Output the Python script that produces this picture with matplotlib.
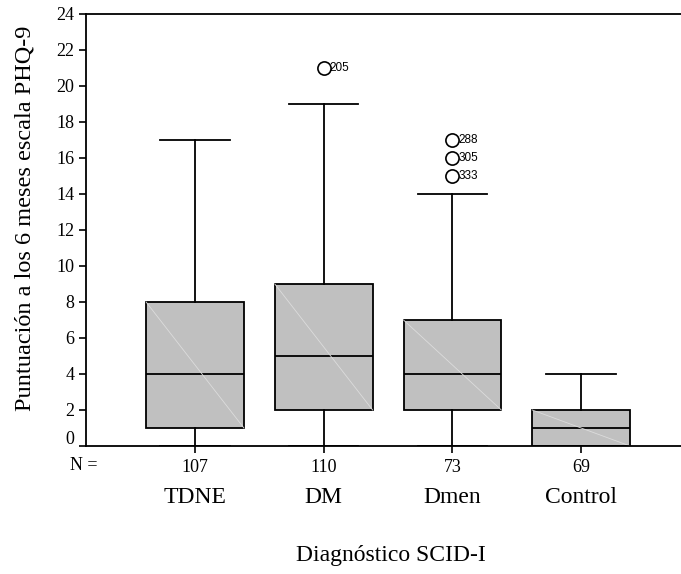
import matplotlib
matplotlib.use("Agg")
import matplotlib.pyplot as plt
from matplotlib.transforms import ScaledTranslation

# datos (escala PHQ-9 a los 6 meses)
grupos = ["TDNE", "DM", "Dmen", "Control"]
n_casos = [107, 110, 73, 69]
minimos = [0, 0, 0, 0]
q1 = [1, 2, 2, 0]
medianas = [4, 5, 4, 1]
q3 = [8, 9, 7, 2]
maximos = [17, 19, 14, 4]
atipicos = [[], [21], [17, 16, 15], []]
etiquetas_atipicos = [[], ["205"], ["288", "305", "333"], []]

serif = ["Liberation Serif", "DejaVu Serif"]
sans = ["Liberation Sans", "DejaVu Sans"]

fig = plt.figure(figsize=(6.81, 5.74), dpi=100)
ax = fig.add_axes([86 / 681, 128 / 574, 595 / 681, 432 / 574])

pos = [1, 2, 3, 4]
stats = []
for i in range(len(grupos)):
    stats.append({"whislo": minimos[i], "q1": q1[i], "med": medianas[i],
                  "q3": q3[i], "whishi": maximos[i], "fliers": atipicos[i]})

lw = 1.3
ax.bxp(stats, positions=pos, widths=0.76, capwidths=0.54, patch_artist=True,
       boxprops=dict(facecolor="#c0c0c0", edgecolor="black", linewidth=lw),
       medianprops=dict(color="black", linewidth=lw),
       whiskerprops=dict(color="black", linewidth=lw),
       capprops=dict(color="black", linewidth=lw),
       flierprops=dict(marker="o", markerfacecolor="none", markeredgecolor="black",
                       markersize=9.5, markeredgewidth=1.2))

# linea diagonal tenue dentro de cada caja
for i in range(len(grupos)):
    ax.plot([pos[i] - 0.38, pos[i] + 0.38], [q3[i], q1[i]], color="#dcdcdc",
            linewidth=0.6, zorder=2.5)

for i in range(len(grupos)):
    for v, t in zip(atipicos[i], etiquetas_atipicos[i]):
        ax.text(pos[i] + 0.045, v, t, fontsize=8.5, family=sans, va="center", ha="left")

ax.set_xlim(0.153, 4.776)
ax.set_ylim(0, 24)
ax.set_yticks(range(0, 25, 2))
ax.set_yticklabels([str(v) for v in range(0, 25, 2)], family=serif, fontsize=13)
ax.set_xticks(pos)
ax.set_xticklabels([str(n) for n in n_casos], family=serif, fontsize=13)
ax.tick_params(axis="both", direction="out", length=5, width=1.2, colors="black")
ax.tick_params(axis="x", pad=4)

# la etiqueta 0 va un poco mas arriba
lbl0 = ax.get_yticklabels()[0]
lbl0.set_transform(lbl0.get_transform() + ScaledTranslation(0, 0.09, fig.dpi_scale_trans))

for s in ["top", "left", "bottom"]:
    ax.spines[s].set_linewidth(1.3)
ax.spines["right"].set_visible(False)

fig.text(84 / 681, 1 - 466 / 574, "N =", family=serif, fontsize=13,
         ha="center", va="center")
for i, g in enumerate(grupos):
    ax.text(pos[i], -2.85, g, family=serif, fontsize=17, ha="center", va="center")

ax.set_ylabel("Puntuación a los 6 meses escala PHQ-9", family=serif, fontsize=17.5)
ax.yaxis.set_label_coords(-0.085, 0.528)
fig.text(391 / 681, 1 - 555 / 574, "Diagnóstico SCID-I", family=serif, fontsize=17,
         ha="center", va="center")

fig.savefig("out.png", dpi=100)
